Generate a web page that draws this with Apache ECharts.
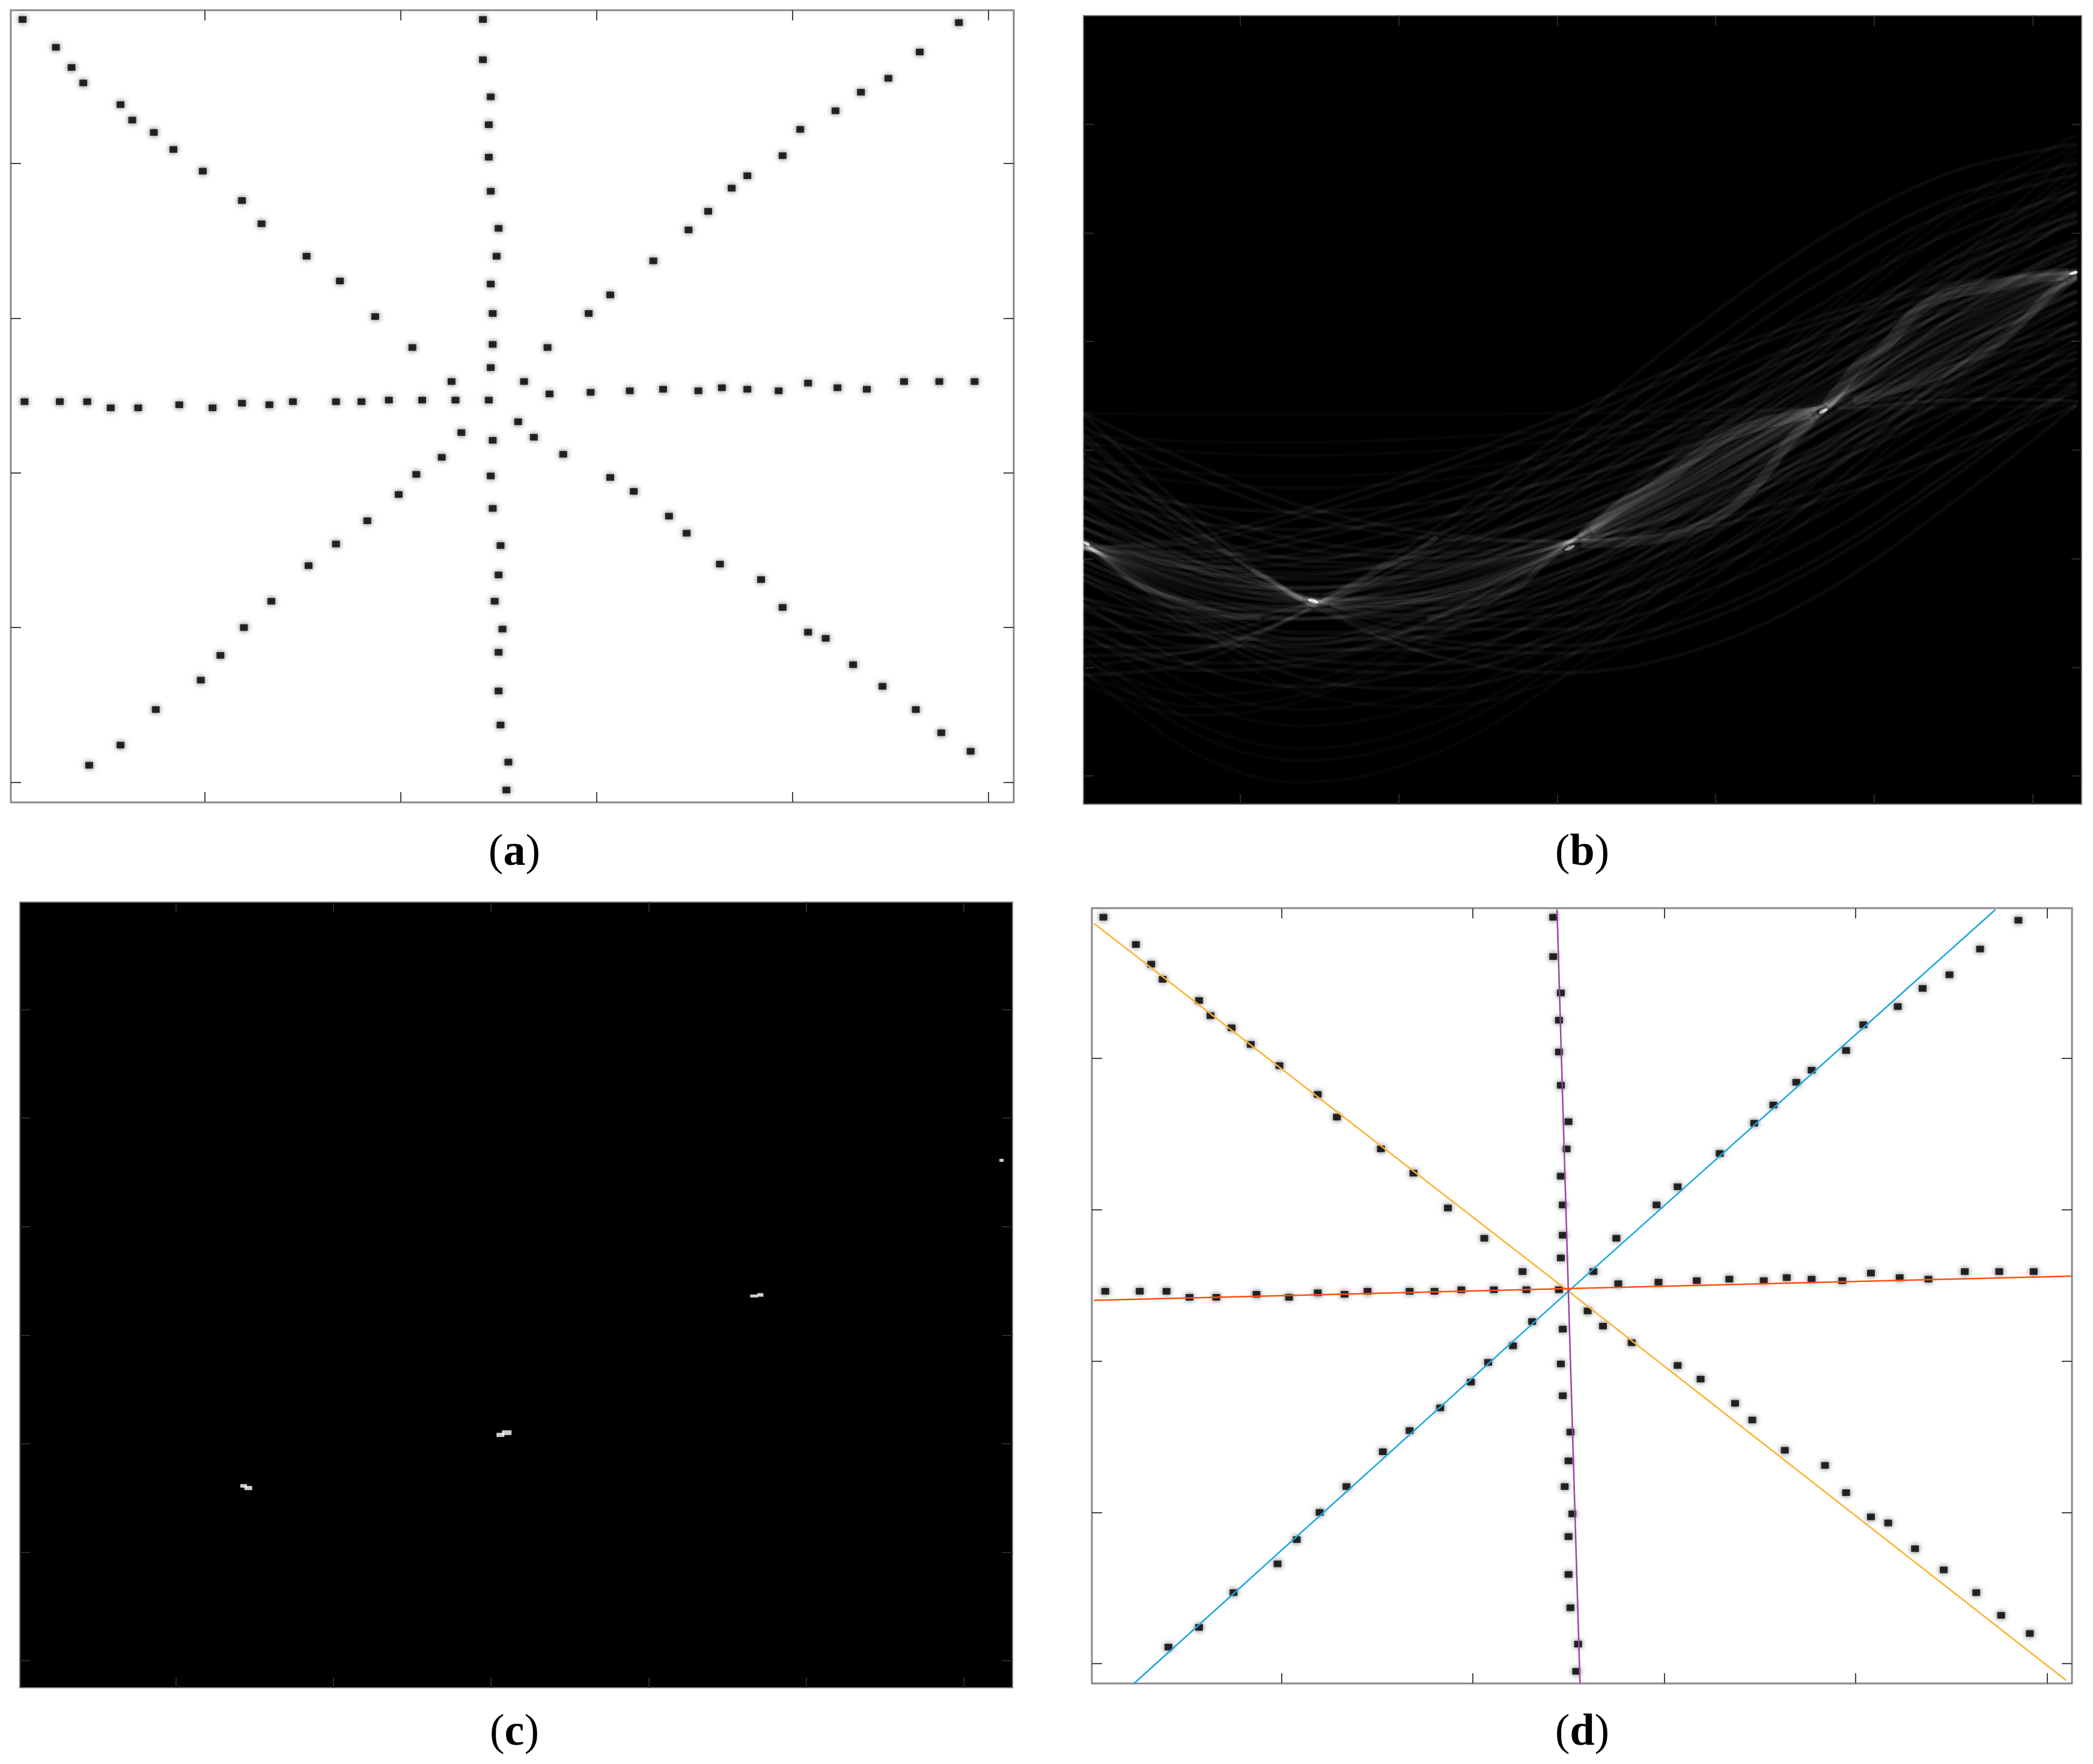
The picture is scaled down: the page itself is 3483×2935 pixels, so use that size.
<!DOCTYPE html>
<html>
<head>
<meta charset="utf-8">
<title>Hough line detection</title>
<script src="https://cdn.jsdelivr.net/npm/echarts@6/dist/echarts.min.js"></script>
<style>
html,body{margin:0;padding:0;background:#fff;}
#main{width:3483px;height:2935px;}
</style>
</head>
<body>
<div id="main"></div>
<script>
// point positions, same points are used in (d)
var armNW=[[7,7],[24,25],[32,38],[38,48],[57,62],[63,72],[74,80],[84,91],[99,105],[119,124],[129,139],[152,160],[169,176],[187,199],[206,219],[226,241]];
var armSE=[[260,267],[268,277],[283,288],[307,303],[319,312],[337,328],[346,339],[363,359],[384,369],[395,387],[408,403],[417,407],[431,424],[446,438],[463,453],[476,468],[491,480]];
var armN=[[242,7],[242,33],[246,57],[245,75],[245,96],[246,118],[250,142],[249,160],[246,178],[247,197],[247,217],[246,232],[245,253]];
var armS=[[247,279],[246,302],[247,323],[251,347],[250,366],[248,383],[252,401],[250,416],[250,441],[251,463],[255,487],[254,505]];
var armW=[[8,254],[26,254],[40,254],[52,258],[66,258],[87,256],[104,258],[119,255],[133,256],[145,254],[167,254],[180,254],[194,253],[211,253],[228,253]];
var armE=[[276,249],[297,248],[317,247],[334,246],[352,247],[364,245],[377,246],[393,247],[408,242],[423,245],[438,246],[457,241],[475,241],[493,241]];
var armNE=[[263,241],[275,219],[296,197],[307,185],[329,163],[347,143],[357,131],[369,116],[377,108],[395,95],[404,78],[422,66],[435,54],[449,45],[465,28],[485,9]];
var armSW=[[231,274],[221,290],[208,301],[199,314],[183,331],[167,346],[153,360],[134,383],[120,400],[108,418],[98,434],[75,453],[57,476],[41,489]];

// fitted lines of panel (d)
var lineOrange=[[2,11],[250,254],[510,511]];
var lineBlue=[[23,513],[250,254],[473,2]];
var linePurple=[[244,2],[256,513]];
var lineRed=[[2,260],[513,244]];

// panel (b): curve heights at these columns
var houghX=[1,70,138,220,304,386,468,547,628];
var arcsOrange=[
	[366,367,367,367,366,364,362,361,359],
	[387,392,393,389,382,371,359,348,339],
	[394,402,405,401,391,377,361,345,332],
	[408,421,424,419,405,384,360,337,317],
	[415,430,435,428,412,388,360,333,310],
	[432,451,457,448,427,395,359,323,293],
	[443,466,473,463,439,402,360,318,283],
	[462,490,499,487,456,411,358,306,263],
	[472,503,513,500,466,416,358,301,253],
	[483,517,528,513,476,421,357,295,242],
	[501,542,555,539,497,433,359,286,224],
	[514,561,578,562,516,446,364,281,211],
	[519,568,586,570,522,450,365,280,207],
	[542,598,618,599,544,462,364,266,183],
	[556,617,639,619,560,471,365,259,169],
	[566,630,654,633,571,477,366,254,159],
	[582,650,675,652,586,485,365,246,144],
	[589,660,686,663,594,490,366,242,136],
	[603,678,706,681,608,497,366,235,123]
];
var arcsBlue=[
	[367,460,537,588,605,585,531,451,358],
	[385,469,537,579,587,561,505,428,340],
	[390,471,535,574,580,553,497,421,336],
	[402,476,533,564,565,534,478,404,324],
	[417,485,534,557,551,516,458,385,309],
	[428,491,535,553,541,502,442,370,297],
	[444,501,536,546,527,483,421,350,281],
	[455,507,536,540,516,469,406,336,270],
	[461,510,537,537,511,462,398,328,264],
	[472,516,537,531,500,448,382,314,253],
	[483,524,540,530,494,438,371,302,243],
	[508,539,543,520,473,409,338,271,218],
	[520,546,544,515,462,394,322,256,206],
	[536,554,544,506,446,373,299,235,190],
	[543,558,544,502,439,364,289,226,183],
	[563,570,546,495,423,341,264,201,163],
	[580,582,551,491,412,325,244,181,146],
	[589,586,549,484,400,311,229,168,136],
	[607,596,550,475,383,288,204,145,118]
];
var arcsPurple=[
	[366,412,451,476,484,473,446,406,359],
	[379,424,460,481,484,468,436,394,346],
	[411,454,483,494,485,457,415,365,315],
	[422,464,491,499,486,454,408,355,304],
	[434,476,501,505,488,451,401,345,292],
	[443,484,507,508,487,447,394,336,283],
	[461,501,519,514,486,439,380,319,264],
	[471,510,526,518,486,435,374,310,255],
	[489,526,539,524,485,427,360,293,236],
	[502,539,548,530,486,423,351,281,223],
	[514,549,556,534,486,418,343,270,212],
	[536,571,574,545,488,412,329,250,189],
	[546,580,580,548,488,408,322,241,180],
	[563,596,593,556,489,402,310,226,162],
	[571,603,598,558,488,398,304,218,155],
	[594,625,615,567,488,390,288,197,131],
	[606,636,625,574,490,387,281,186,119],
	[615,644,631,577,490,383,274,178,110]
];
var arcsRed=[
	[490,481,455,415,367,318,276,247,236],
	[490,485,462,423,376,326,282,250,236],
	[492,494,477,442,395,343,294,256,234],
	[491,498,484,452,406,354,303,261,235],
	[490,503,495,466,422,369,314,268,235],
	[490,508,504,478,435,381,324,273,236],
	[490,514,516,494,453,397,336,280,236],
	[489,520,527,509,468,412,348,286,236],
	[489,523,533,516,477,419,354,289,236],
	[487,530,548,538,501,442,372,300,238],
	[487,534,555,547,511,452,380,305,239],
	[486,540,568,564,530,470,394,313,240],
	[486,544,574,572,539,478,400,316,239],
	[486,548,583,584,551,490,409,321,240],
	[484,552,592,597,567,505,421,329,242],
	[485,557,599,605,574,511,425,330,240],
	[483,561,609,620,591,527,439,339,242],
	[483,568,622,636,609,544,452,346,242]
];

// brighter bands of (b), read along the ridges
var ridgeLeftUpper=[[3,486],[22,492],[54,504],[87,513],[118,525],[139,537]];
var ridgeLeftLower=[[3,490],[17,506],[37,525],[61,539],[87,550],[113,555]];
var ridgeArmDownLeft=[[13,597],[39,592],[76,583],[102,571],[122,562],[144,546]];
var ridgeArmDownRight=[[152,543],[174,562],[196,576],[218,588],[227,591]];
var ridgeArmUpLeft=[[107,511],[122,522],[135,535],[144,541]];
var ridgeAbUpper=[[152,536],[174,522],[192,506],[209,496],[224,480]];
var ridgeAbMiddle=[[157,543],[196,541],[240,529],[272,511],[294,497],[305,491]];
var ridgeAbLower=[[218,555],[251,541],[275,527],[292,504],[303,492]];
var ridgeBcUpper=[[315,480],[337,455],[365,431],[394,399],[418,381],[448,369],[464,365]];
var ridgeBcCentre=[[322,475],[350,455],[383,431],[416,403],[444,381],[461,369]];
var ridgeBcLower=[[315,486],[339,485],[370,480],[394,468],[413,450],[431,423],[448,389],[464,366]];
var ridgeCdUpper=[[470,359],[481,339],[492,319],[507,304],[525,275],[546,257],[579,248],[601,241],[623,238]];
var ridgeCdLower=[[487,355],[535,334],[568,312],[590,287],[610,257],[620,243]];
var ridgeCdFlat=[[477,361],[503,359],[535,355],[579,353],[629,355]];

// four maxima of (b) and the left edge spot
var houghPeaks=[[146,539],[308,490],[468,364],[626,237],[3,486]];

// panel (c): thresholded peaks
var peakBlobs=[[143,539],[146,541],[306,492],[310,490],[467,364],[471,363],[624,239]];

var blobSizes=[[11,6],[13,7],[13,7],[16,8],[13,5],[10,6],[7,5]];
var peakSizes=[[18,6],[18,6],[16,6],[16,5],[12,5]];
var peakRotate=[-15,25,25,15,-25];
var ridgeWidths=[9,9,6,5,9,9,9,9,20,20,16,20,14,6];
var ridgeAlpha=[0.07,0.07,0.04,0.035,0.07,0.07,0.07,0.07,0.09,0.08,0.08,0.09,0.08,0.06];
var imageTicks=[100,200,300,400,500];
var houghXTicks=[100,200,300,400,500,600];
var houghYTicks=[100,200,300,400,500,600,700];

var myChart = echarts.init(document.getElementById('main'));

function makeAxis(grid,pos,min,max,ticks,tickColor,inverse){
	return {
		type:'value',
		gridIndex:grid,
		position:pos,
		min:min,
		max:max,
		inverse:inverse,
		axisLine:{show:false,onZero:false},
		axisLabel:{show:false},
		splitLine:{show:false},
		axisTick:{
			show:true,
			inside:true,
			length:17,
			customValues:ticks,
			lineStyle:{color:tickColor,width:2}
		}
	};
}

function caption(letter,left,top){
	return {
		text:'{p|(}{l|'+letter+'}{p|)}',
		left:left,
		top:top,
		textAlign:'center',
		textStyle:{
			fontWeight:'normal',
			rich:{
				p:{fontFamily:'Liberation Serif',fontSize:74,fontWeight:'normal',color:'#000'},
				l:{fontFamily:'Liberation Serif',fontSize:74,fontWeight:'bold',color:'#000'}
			}
		}
	};
}

var grids=[
	{left:18,top:17,width:1669,height:1318,show:true,backgroundColor:'#fff',borderColor:'#888',borderWidth:3},
	{left:1803,top:26,width:1661,height:1312,show:true,backgroundColor:'#000',borderColor:'#777',borderWidth:2},
	{left:33,top:1501,width:1652,height:1307,show:true,backgroundColor:'#000',borderColor:'#777',borderWidth:2},
	{left:1817,top:1511,width:1631,height:1290,show:true,backgroundColor:'#fff',borderColor:'#888',borderWidth:3}
];

var xAxes=[],yAxes=[];
var cfg=[
	{xMin:1,xMax:513,yMin:1,yMax:513,xt:imageTicks,yt:imageTicks,c:'#444'},
	{xMin:1,xMax:631,yMin:0,yMax:726,xt:houghXTicks,yt:houghYTicks,c:'#2a2a2a'},
	{xMin:1,xMax:631,yMin:1,yMax:725,xt:houghXTicks,yt:houghYTicks,c:'#2a2a2a'},
	{xMin:1,xMax:513,yMin:1,yMax:513,xt:imageTicks,yt:imageTicks,c:'#444'}
];
for(var g=0;g<4;g++){
	var k=cfg[g];
	xAxes.push(makeAxis(g,'bottom',k.xMin,k.xMax,k.xt,k.c,false));
	xAxes.push(makeAxis(g,'top',k.xMin,k.xMax,k.xt,k.c,false));
	yAxes.push(makeAxis(g,'left',k.yMin,k.yMax,k.yt,k.c,true));
	yAxes.push(makeAxis(g,'right',k.yMin,k.yMax,k.yt,k.c,true));
}

var allArms=[armNW,armSE,armN,armS,armW,armE,armNE,armSW];
var series=[];

// dots of (a) and (d)
function addDots(axisIndex){
	allArms.forEach(function(arm){
		series.push({
			type:'scatter',
			xAxisIndex:axisIndex,
			yAxisIndex:axisIndex,
			data:arm,
			symbol:'rect',
			symbolSize:[13,11],
			itemStyle:{color:'#000',shadowBlur:10,shadowColor:'rgba(0,0,0,0.8)'},
			silent:true
		});
	});
}
addDots(0);
addDots(6);

// hough curves, additive so the crossings burn out to white
[arcsOrange,arcsBlue,arcsPurple,arcsRed].forEach(function(group){
	group.forEach(function(arc){
		var deepest=Math.max.apply(null,arc);
		//outer curves are dimmer in the reference
		var alpha=(deepest>620||deepest<440)?0.024:0.042;
		series.push({
			type:'line',
			xAxisIndex:2,
			yAxisIndex:2,
			data:arc.map(function(v,i){return [houghX[i],v];}),
			smooth:0.35,
			showSymbol:false,
			silent:true,
			blendMode:'lighter',
			lineStyle:{color:'rgba(255,255,255,'+alpha+')',width:6}
		});
	});
});

var ridges=[ridgeLeftUpper,ridgeLeftLower,ridgeArmDownLeft,ridgeArmDownRight,ridgeArmUpLeft,ridgeAbUpper,ridgeAbMiddle,ridgeAbLower,ridgeBcUpper,ridgeBcCentre,ridgeBcLower,ridgeCdUpper,ridgeCdLower,ridgeCdFlat];
ridges.forEach(function(r,i){
	series.push({
		type:'line',
		xAxisIndex:2,
		yAxisIndex:2,
		data:r,
		smooth:0.35,
		showSymbol:false,
		silent:true,
		blendMode:'lighter',
		lineStyle:{color:'rgba(255,255,255,'+ridgeAlpha[i]+')',width:ridgeWidths[i],shadowBlur:12,shadowColor:'rgba(255,255,255,0.2)'}
	});
});

series.push({
	type:'scatter',
	xAxisIndex:2,
	yAxisIndex:2,
	data:houghPeaks.map(function(p,i){return {value:p,symbolSize:peakSizes[i],symbolRotate:peakRotate[i]};}),
	symbol:'circle',
	blendMode:'lighter',
	itemStyle:{color:'rgba(255,255,255,0.6)',shadowBlur:16,shadowColor:'rgba(255,255,255,0.9)'},
	silent:true
});

// blobs of (c)
series.push({
	type:'scatter',
	xAxisIndex:4,
	yAxisIndex:4,
	data:peakBlobs.map(function(p,i){return {value:p,symbolSize:blobSizes[i]};}),
	symbol:'rect',
	itemStyle:{color:'#fff'},
	silent:true
});

// fitted lines of (d)
var fitted=[[lineOrange,'#f9b233'],[lineBlue,'#1ba6de'],[linePurple,'#a040a8'],[lineRed,'#ff5010']];
fitted.forEach(function(f){
	series.push({
		type:'line',
		xAxisIndex:6,
		yAxisIndex:6,
		data:f[0],
		showSymbol:false,
		silent:true,
		lineStyle:{color:f[1],width:2.5}
	});
});

var option = {
	animation:false,
	backgroundColor:'#fff',
	title:[
		caption('a',851,1378),
		caption('b',2628,1378),
		caption('c',851,2842),
		caption('d',2628,2842)
	],
	grid:grids,
	xAxis:xAxes,
	yAxis:yAxes,
	series:series
};

myChart.setOption(option);
</script>
</body>
</html>
